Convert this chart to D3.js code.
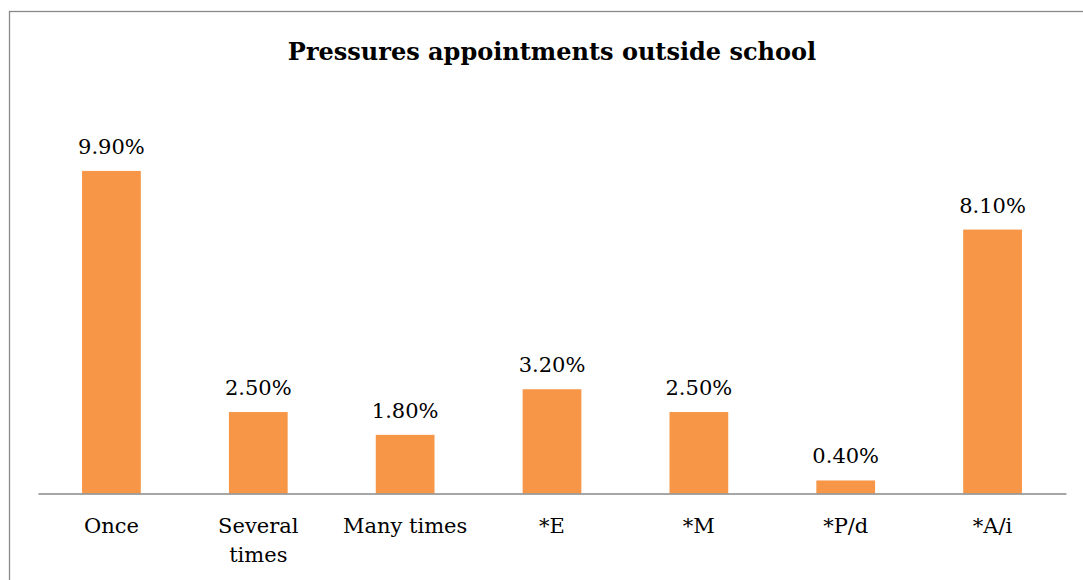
<!DOCTYPE html>
<html>
<head>
<meta charset="utf-8">
<script src="https://cdn.jsdelivr.net/npm/d3@7"></script>
<style>
  body { margin: 0; background: #fff; }
</style>
</head>
<body>
<script>
// values
let categories = ['Once', 'Several times', 'Many times', '*E', '*M', '*P/d', '*A/i'];
let values = [9.9, 2.5, 1.8, 3.2, 2.5, 0.4, 8.1];
let title = 'Pressures appointments outside school';

let width = 1083;
let height = 580;
let serif = "'DejaVu Serif', serif";

let svg = d3.select('body')
  .append('svg')
  .attr('width', width)
  .attr('height', height)
  .style('font-family', serif);

// chart frame (runs off the right and bottom edge)
svg.append('rect')
  .attr('x', 9.5)
  .attr('y', 11.5)
  .attr('width', 1100)
  .attr('height', 600)
  .attr('fill', 'none')
  .attr('stroke', '#898989')
  .attr('stroke-width', 1.3);

svg.append('text')
  .attr('x', 552)
  .attr('y', 60)
  .attr('text-anchor', 'middle')
  .style('font-size', '24px')
  .style('font-weight', 'bold')
  .text(title);

let x = d3.scaleBand()
  .domain(categories)
  .range([38, 1066])
  .paddingInner(0.6)
  .paddingOuter(0.3);

let y = d3.scaleLinear()
  .domain([0, 12])
  .range([493.5, 102.5]);

svg.selectAll('.bar')
  .data(values)
  .enter().append('rect')
  .attr('class', 'bar')
  .attr('x', (d, i) => x(categories[i]))
  .attr('y', d => y(d))
  .attr('width', x.bandwidth())
  .attr('height', d => y(0) - y(d))
  .attr('fill', '#F79646');

svg.selectAll('.value')
  .data(values)
  .enter().append('text')
  .attr('class', 'value')
  .attr('x', (d, i) => x(categories[i]) + x.bandwidth() / 2)
  .attr('y', d => y(d) - 17)
  .attr('text-anchor', 'middle')
  .style('font-size', '21px')
  .text(d => d.toFixed(2) + '%');

// baseline
let xAxis = svg.append('g')
  .attr('transform', `translate(0,${y(0)})`)
  .call(d3.axisBottom(x).tickSize(0).tickPadding(0));

xAxis.select('.domain').attr('stroke', '#898989').attr('stroke-width', 1.5);
xAxis.selectAll('.tick text').remove();

// category labels, wrapped like the original
let wrapped = {'Several times': ['Several', 'times']};

let catLabels = svg.selectAll('.cat')
  .data(categories)
  .enter().append('text')
  .attr('class', 'cat')
  .attr('x', d => x(d) + x.bandwidth() / 2)
  .attr('y', 533)
  .attr('text-anchor', 'middle')
  .style('font-size', '21px');

catLabels.each(function (d) {
  let lines = wrapped[d] || [d];
  d3.select(this).selectAll('tspan')
    .data(lines)
    .enter().append('tspan')
    .attr('x', x(d) + x.bandwidth() / 2)
    .attr('dy', (l, i) => i === 0 ? 0 : 29)
    .text(l => l);
});
</script>
</body>
</html>
